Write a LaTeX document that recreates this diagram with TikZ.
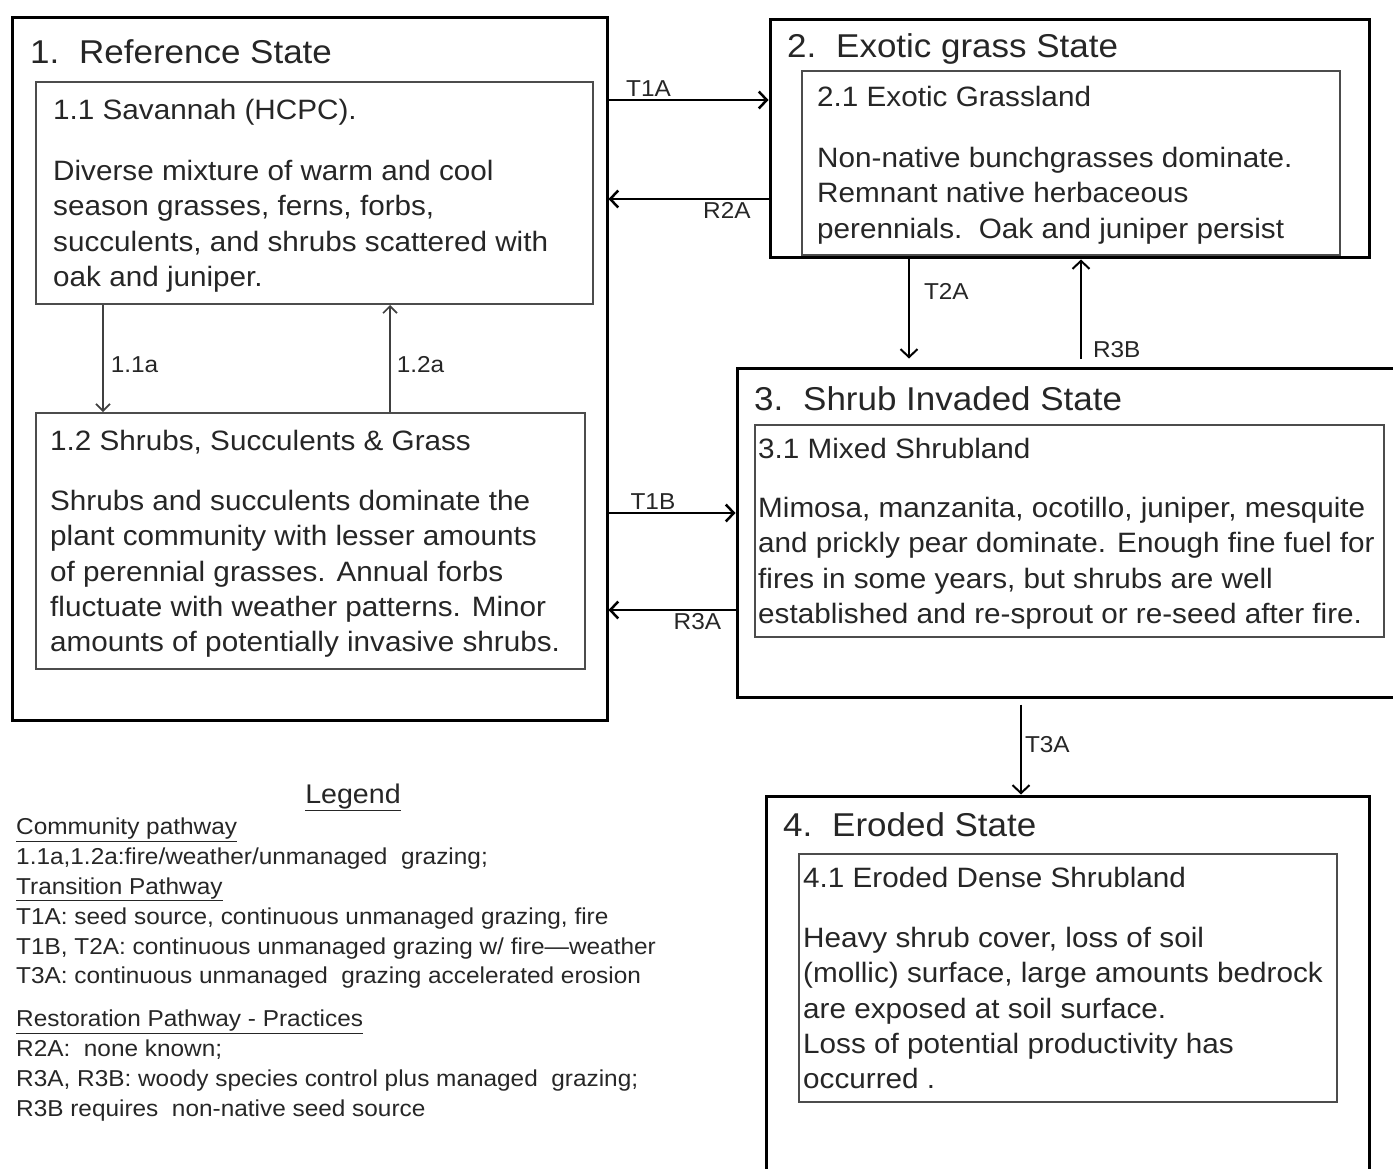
\documentclass[tikz,border=0pt]{standalone}
\usepackage{fontspec}
\setmainfont{Liberation Sans}[FakeStretch=1.06]
\usetikzlibrary{arrows.meta,positioning}
\definecolor{ink}{HTML}{262626}
\tikzset{
  statebox/.style={rectangle,draw=black,line width=3pt,inner sep=0pt},
  phasebox/.style={rectangle,draw=black!70,line width=2pt,inner sep=0pt},
  stitle/.style={anchor=base west,inner sep=0pt,text=ink,font=\fontsize{33}{38}\selectfont},
  ptitle/.style={anchor=base west,inner sep=0pt,text=ink,font=\fontsize{28}{35.3}\selectfont},
  ptext/.style={anchor=north west,inner sep=0pt,align=left,text=ink,font=\fontsize{28}{35.3}\selectfont},
  trans/.style={line width=2.5pt,-{Straight Barb[length=8pt,width=17pt]}},
  comm/.style={line width=1.6pt,color=black!75,-{Straight Barb[length=7pt,width=14pt]}},
  lbl/.style={inner sep=2pt,text=ink,font=\fontsize{23}{26}\selectfont},
  legtext/.style={anchor=north west,inner sep=0pt,align=left,text=ink,font=\fontsize{23}{29.8}\selectfont},
}
\begin{document}
\begin{tikzpicture}[x=1pt,y=-1pt]
\useasboundingbox (0,0) rectangle (1393,1169);
\clip (0,0) rectangle (1393,1169);
% states
\node (s1) [statebox,minimum width=595pt,minimum height=702pt] at (309.5,369) {};
\node (s2) [statebox,minimum width=599pt,minimum height=238pt] at (1069.5,139) {};
\node (s3) [statebox,minimum width=668pt,minimum height=329pt] at (1071,532.5) {};
\node (s4) [statebox,minimum width=603pt,minimum height=389pt] at (1067.5,990.5) {};
\node (s1t) [stitle] at (30,64) {1.\hspace{0.6em}Reference State};
\node (s2t) [stitle] at (787,58) {2.\hspace{0.6em}Exotic grass State};
\node (s3t) [stitle] at (754,410) {3.\hspace{0.6em}Shrub Invaded State};
\node (s4t) [stitle] at (783,836) {4.\hspace{0.6em}Eroded State};
% community phases
\node (p11) [phasebox,minimum width=557pt,minimum height=222pt] at (314.5,193) {};
\node (p12) [phasebox,minimum width=549pt,minimum height=256pt] at (310.5,541) {};
\node (p21) [phasebox,minimum width=538pt,minimum height=184pt] at (1071,163) {};
\node (p31) [phasebox,minimum width=629pt,minimum height=212pt] at (1069.5,531) {};
\node (p41) [phasebox,minimum width=538pt,minimum height=248pt] at (1068,978) {};
%
\node (p11t) [ptitle] at (53,120) {1.1 Savannah (HCPC).};
\node (p11x) [ptext] at (53,160) {Diverse mixture of warm and cool\\
season grasses, ferns, forbs,\\
succulents, and shrubs scattered with\\
oak and juniper.};
\node (p12t) [ptitle] at (50,450) {1.2 Shrubs, Succulents \& Grass};
\node (p12x) [ptext] at (50,490) {Shrubs and succulents dominate the\\
plant community with lesser amounts\\
of perennial grasses. Annual forbs\\
fluctuate with weather patterns. Minor\\
amounts of potentially invasive shrubs.};
\node (p21t) [ptitle] at (817,107) {2.1 Exotic Grassland};
\node (p21x) [ptext] at (817,147) {Non-native bunchgrasses dominate.\\
Remnant native herbaceous\\
perennials.\ \ Oak and juniper persist};
\node (p31t) [ptitle] at (758,458) {3.1 Mixed Shrubland};
\node (p31x) [ptext] at (758,497) {Mimosa, manzanita, ocotillo, juniper, mesquite\\
and prickly pear dominate. Enough fine fuel for\\
fires in some years, but shrubs are well\\
established and re-sprout or re-seed after fire.};
\node (p41t) [ptitle] at (803,887) {4.1 Eroded Dense Shrubland};
\node (p41x) [ptext] at (803,927) {Heavy shrub cover, loss of soil\\
(mollic) surface, large amounts bedrock\\
are exposed at soil surface.\\
Loss of potential productivity has\\
occurred .};
% pathways
\path[comm] (p11.south -| 103,0) edge node[lbl,right=5pt,pos=0.56] {1.1a} (p12.north -| 103,0);
\path[comm] (p12.north -| 390,0) edge node[lbl,right=4pt,pos=0.44] {1.2a} (p11.south -| 390,0);
\path[trans] (s1.east |- 0,100) edge node[lbl,above,pos=0.25] {T1A} (s2.west |- 0,100);
\path[trans] (s2.west |- 0,199) edge node[lbl,below,pos=0.26] {R2A} (s1.east |- 0,199);
\path[trans] (s1.east |- 0,513) edge node[lbl,above,pos=0.35] {T1B} (s3.west |- 0,513);
\path[trans] (s3.west |- 0,610) edge node[lbl,below,pos=0.3] {R3A} (s1.east |- 0,610);
\path[trans,line width=2pt,shorten >=8pt] (s2.south -| 909,0) edge node[lbl,right=12pt,pos=0.3] {T2A} (s3.north -| 909,0);
\path[trans,line width=2pt,shorten <=8pt] (s3.north -| 1081,0) edge node[lbl,right=9pt,pos=0.16] {R3B} (s2.south -| 1081,0);
\path[trans,line width=2pt,shorten <=6pt] (s3.south -| 1021,0) edge node[lbl,right=1pt,pos=0.48] {T3A} (s4.north -| 1021,0);
% legend
\node (leg) [anchor=base,inner sep=0pt,text=ink,font=\fontsize{27}{30}\selectfont] at (353,803) {\underline{Legend}};
\node (leg1) [legtext] at (16,818) {\underline{Community pathway}\\
1.1a,1.2a:fire/weather/unmanaged\ \ grazing;\\
\underline{Transition Pathway}\\
T1A: seed source, continuous unmanaged grazing, fire\\
T1B, T2A: continuous unmanaged grazing w/ fire---weather\\
T3A: continuous unmanaged\ \ grazing accelerated erosion};
\node (leg2) [legtext] at (16,1010) {\underline{Restoration Pathway - Practices}\\
R2A:\ \ none known;\\
R3A, R3B: woody species control plus managed\ \ grazing;\\
R3B requires\ \ non-native seed source};
\end{tikzpicture}
\end{document}
